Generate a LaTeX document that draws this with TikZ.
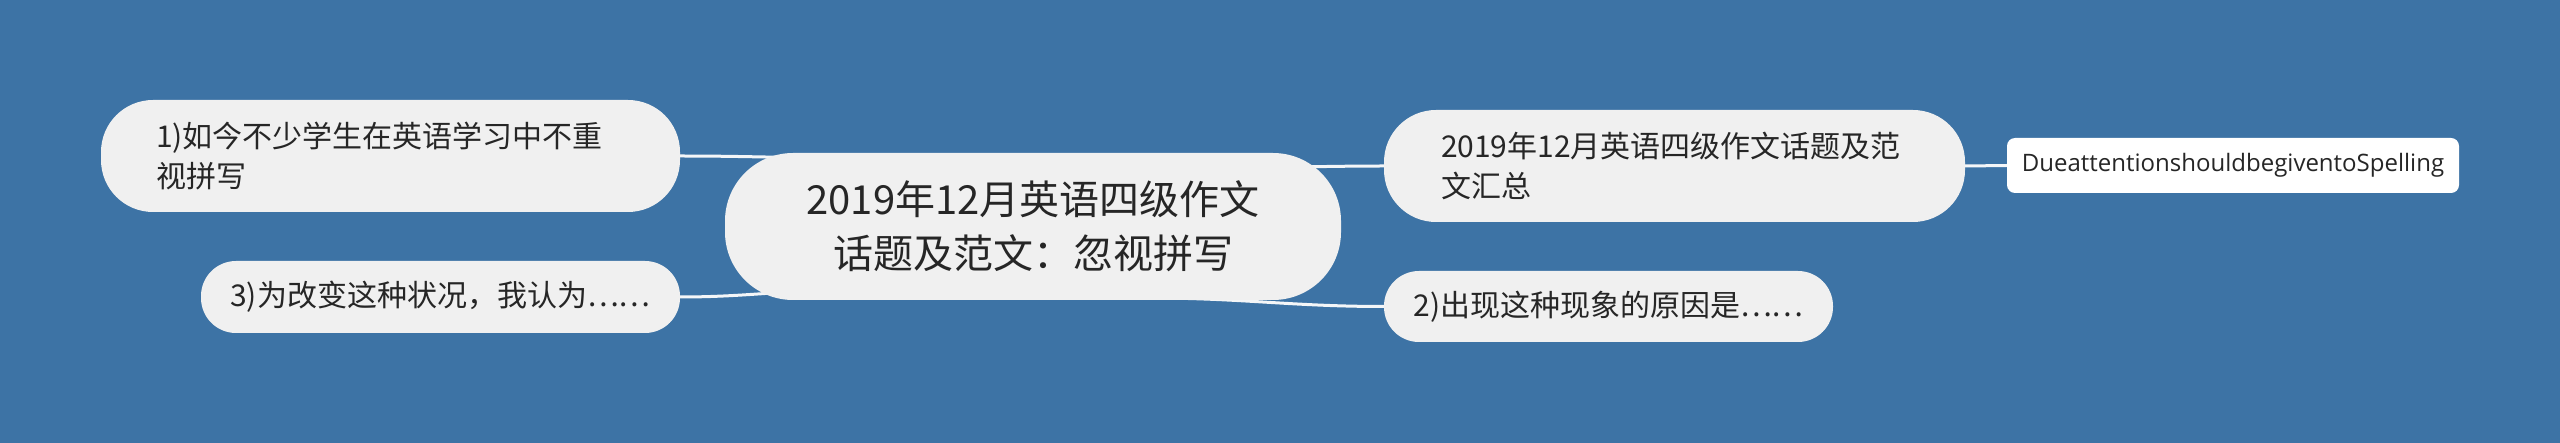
\documentclass[tikz,border=0pt]{standalone}
\usepackage{fontspec}
\usepackage{tikz}
\usetikzlibrary{backgrounds}
\setmainfont{Noto Sans CJK SC}
\newfontfamily\leaffont{Open Sans}
\definecolor{bgblue}{HTML}{3D73A5}
\definecolor{nodefill}{HTML}{F0F0F0}
\definecolor{linkcol}{HTML}{F4F6F8}
\definecolor{textcol}{HTML}{262626}

\begin{document}
\begin{tikzpicture}[x=1pt,y=-1pt,text=textcol,
  topic/.style={fill=nodefill,rounded corners=68pt,minimum width=616pt,minimum height=147pt,inner sep=0pt,align=center,font=\fontsize{40}{54}\selectfont},
  branch/.style={fill=nodefill,rounded corners=#1,inner ysep=0pt,align=left,font=\fontsize{30}{40}\selectfont},
  branch/.default=35pt,
  leaf/.style={fill=white,rounded corners=8pt,minimum width=452pt,minimum height=55pt,inner sep=0pt,font=\leaffont\fontsize{24}{28}\selectfont},
  link/.style={draw=linkcol,line width=3pt}]
\useasboundingbox (0,0) rectangle (2560,443);
\node [topic] (root) at (1033,226.5) {2019年12月英语四级作文\\话题及范文：忽视拼写};
\node [branch=52pt,text width=469pt,inner xsep=55pt,minimum height=112pt] (spell) at (390.5,156) {1)如今不少学生在英语学习中不重\\视拼写};
\node [branch=35pt,inner xsep=0pt,minimum width=479pt,minimum height=72pt] (change) at (440.5,297) {3)为改变这种状况，我认为……};
\node [branch=52pt,text width=467pt,inner xsep=57pt,minimum height=112pt] (summary) at (1674.5,166) {2019年12月英语四级作文话题及范\\文汇总};
\node [branch=35pt,inner xsep=0pt,minimum width=449pt,minimum height=71pt] (reason) at (1608.5,306.5) {2)出现这种现象的原因是……};
\node [leaf] (due) at (2233,165.5) {DueattentionshouldbegiventoSpelling};
\coordinate (r1) at (850,158);
\coordinate (r3) at (850,290);
\coordinate (r4) at (1270,167);
\coordinate (r2) at (1150,298);
\begin{pgfonlayer}{background}
\fill [bgblue] (0,0) rectangle (2560,443);
\draw [link] (spell.east) to[out=0,in=180] (r1);
\draw [link] (change.east) to[out=0,in=180] (r3);
\draw [link] (r4) to[out=0,in=180] (summary.west);
\draw [link] (r2) to[out=0,in=180] (reason.west);
\draw [link] (summary.east) -- (due.west);
\end{pgfonlayer}
\end{tikzpicture}
\end{document}
